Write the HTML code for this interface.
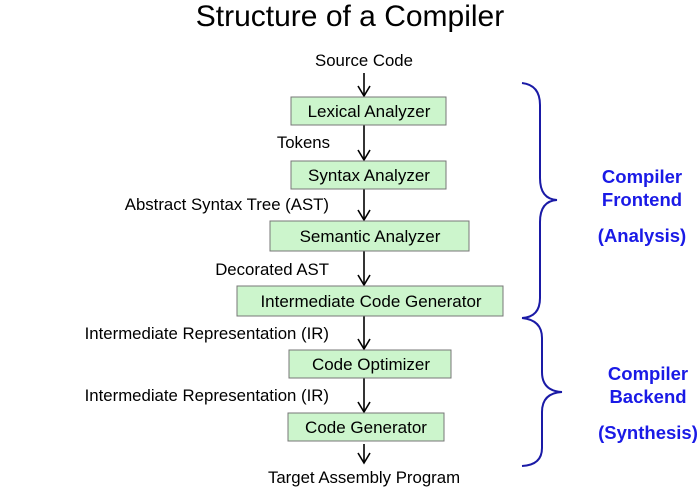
<!DOCTYPE html>
<html><head><meta charset="utf-8"><style>
html,body{margin:0;padding:0;background:#fff;}
svg{display:block;}
text{font-family:"Liberation Sans",Arial,sans-serif;}
</style></head><body>
<svg width="700" height="490" viewBox="0 0 700 490" xmlns="http://www.w3.org/2000/svg">
<text x="350" y="26" font-size="30" text-anchor="middle">Structure of a Compiler</text>
<g font-size="16.8" fill="#000">
<text x="364" y="66" text-anchor="middle">Source Code</text>
<text x="330" y="148" text-anchor="end">Tokens</text>
<text x="329" y="210" text-anchor="end">Abstract Syntax Tree (AST)</text>
<text x="329" y="275" text-anchor="end">Decorated AST</text>
<text x="329" y="339" text-anchor="end">Intermediate Representation (IR)</text>
<text x="329" y="401" text-anchor="end">Intermediate Representation (IR)</text>
<text x="364" y="483" text-anchor="middle">Target Assembly Program</text>
</g>
<g stroke="#000" stroke-width="1.6" fill="none">
<line x1="364" y1="73" x2="364" y2="96"/><path d="M358,86 L364,96 L370,86"/>
<line x1="364" y1="125" x2="364" y2="160"/><path d="M358,150 L364,160 L370,150"/>
<line x1="364" y1="189" x2="364" y2="220"/><path d="M358,210 L364,220 L370,210"/>
<line x1="364" y1="251" x2="364" y2="285"/><path d="M358,275 L364,285 L370,275"/>
<line x1="364" y1="316" x2="364" y2="349"/><path d="M358,339 L364,349 L370,339"/>
<line x1="364" y1="378" x2="364" y2="412"/><path d="M358,402 L364,412 L370,402"/>
<line x1="364" y1="444" x2="364" y2="463"/><path d="M358,453 L364,463 L370,453"/>
</g>
<g fill="#ccf5cc" stroke="#777" stroke-width="1">
<rect x="291" y="97" width="155" height="28"/>
<rect x="291" y="161" width="155" height="28"/>
<rect x="270" y="221" width="199" height="30"/>
<rect x="237" y="286" width="266" height="30"/>
<rect x="289" y="350" width="162" height="28"/>
<rect x="288" y="413" width="156" height="28"/>
</g>
<g font-size="17" text-anchor="middle">
<text x="369" y="117">Lexical Analyzer</text>
<text x="369" y="181">Syntax Analyzer</text>
<text x="370" y="242">Semantic Analyzer</text>
<text x="371" y="307">Intermediate Code Generator</text>
<text x="371" y="370">Code Optimizer</text>
<text x="366" y="433">Code Generator</text>
</g>
<g fill="none" stroke="#1a1aa6" stroke-width="2">
<path d="M522,83 Q540,85 540,105 L540,178 Q540,199 557,200 Q540,201 540,222 L540,298 Q540,317 522,318"/>
<path d="M522,318 Q542,320 542,338 L542,372 Q542,391 562,392 Q542,393 542,412 L542,448 Q542,465 522,466"/>
</g>
<g fill="#1a1ae6" font-weight="bold" font-size="18.5" text-anchor="middle">
<text x="642" y="183">Compiler</text>
<text x="642" y="206">Frontend</text>
<text x="642" y="242">(Analysis)</text>
<text x="648" y="380">Compiler</text>
<text x="648" y="403">Backend</text>
<text x="648" y="439">(Synthesis)</text>
</g>
</svg>
</body></html>
